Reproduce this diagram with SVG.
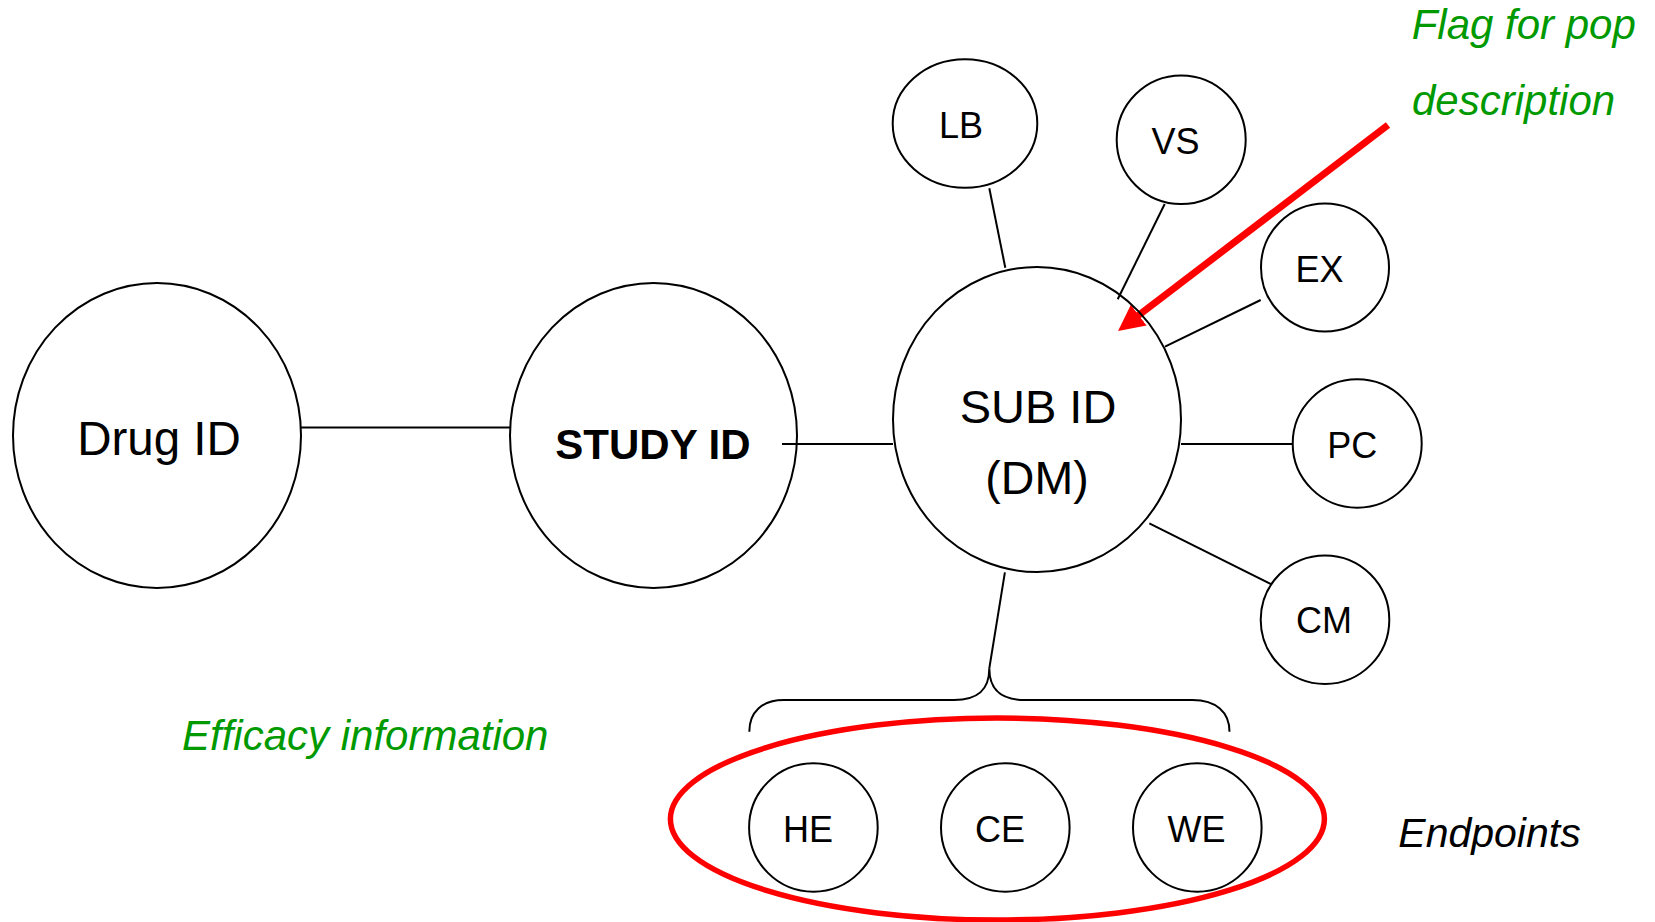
<svg xmlns="http://www.w3.org/2000/svg" width="1655" height="922" viewBox="0 0 1655 922">
<style>
.n{fill:#fff;stroke:#000;stroke-width:2}
.c{stroke:#000;stroke-width:2;fill:none}
.t{font-family:"Liberation Sans",Arial,sans-serif;fill:#000;text-anchor:middle}
.s{font-size:36px}
.g{font-family:"Liberation Sans",Arial,sans-serif;font-style:italic;fill:#009900;font-size:42px}
</style>
<defs>
<marker id="ah" markerUnits="userSpaceOnUse" markerWidth="26" markerHeight="26" viewBox="0 0 24 24" refX="2" refY="12" orient="auto">
<path d="M0,0 L24,12 L0,24 Z" fill="#ff0000"/>
</marker>
</defs>
<rect width="1655" height="922" fill="#fff"/>
<g id="connectors">
<line class="c" x1="300" y1="427.5" x2="510" y2="427.5"/>
<line class="c" x1="782" y1="444" x2="893" y2="444"/>
<line class="c" x1="989.3" y1="188.3" x2="1005.3" y2="267.7"/>
<line class="c" x1="1164.7" y1="204" x2="1117.7" y2="299.3"/>
<line class="c" x1="1260.7" y1="300" x2="1165" y2="346.7"/>
<line class="c" x1="1181" y1="444" x2="1292.7" y2="444"/>
<line class="c" x1="1149.3" y1="523.3" x2="1277.3" y2="587.3"/>
<line class="c" x1="1004.9" y1="572.3" x2="989.3" y2="668.3"/>
<path class="c" d="M749.3,731.7 C749.3,712 762,700 784,700 L954,700 C978,700 989.3,690 989.3,668.3 C989.3,690 1001,700 1025,700 L1192.4,700 C1216,700 1229.5,712 1229.5,731.7"/>
<line x1="1388" y1="125" x2="1137" y2="316.5" stroke="#ff0000" stroke-width="7" marker-end="url(#ah)"/>
</g>
<g id="drug"><ellipse class="n" cx="157" cy="435.5" rx="144" ry="152.5"/><text class="t" x="159" y="455.3" font-size="47.5">Drug ID</text></g>
<g id="study"><ellipse class="n" cx="653.5" cy="435.5" rx="143.5" ry="152.5"/><line class="c" x1="782" y1="444" x2="797" y2="444"/><text class="t" x="653" y="458.7" font-size="42" font-weight="bold">STUDY ID</text></g>
<g id="sub"><ellipse class="n" cx="1037" cy="419.5" rx="144" ry="152.5" style="fill:none"/><text class="t" x="1038" y="423.3" font-size="47">SUB ID</text><text class="t" x="1037" y="494" font-size="46.5">(DM)</text></g>
<g id="lb"><ellipse class="n" cx="965" cy="123.5" rx="72.3" ry="64.2"/><text class="t s" x="961" y="138">LB</text></g>
<g id="vs"><ellipse class="n" cx="1181.2" cy="139.7" rx="64.5" ry="64.3"/><text class="t s" x="1175.5" y="154">VS</text></g>
<g id="ex"><ellipse class="n" cx="1325" cy="267.5" rx="64" ry="64"/><text class="t s" x="1319.5" y="282">EX</text></g>
<g id="pc"><ellipse class="n" cx="1357.2" cy="443.5" rx="64.5" ry="64.2"/><text class="t s" x="1352.3" y="457.7">PC</text></g>
<g id="cm"><ellipse class="n" cx="1325" cy="619.7" rx="64.3" ry="64.3"/><text class="t s" x="1324" y="633.3">CM</text></g>
<g id="endpoints-group"><ellipse cx="997.4" cy="819" rx="327" ry="101" fill="none" stroke="#ff0000" stroke-width="5.5"/></g>
<g id="he"><ellipse class="n" cx="813.4" cy="827.5" rx="64.3" ry="64.2"/><text class="t s" x="808" y="841.7">HE</text></g>
<g id="ce"><ellipse class="n" cx="1005.3" cy="827.5" rx="64.3" ry="64.2"/><text class="t s" x="1000" y="841.7">CE</text></g>
<g id="we"><ellipse class="n" cx="1197.3" cy="827.5" rx="64.3" ry="64.2"/><text class="t s" x="1196.5" y="841.7">WE</text></g>
<g id="labels">
<text class="g" x="1411.7" y="39.3">Flag for pop</text>
<text class="g" x="1412" y="115">description</text>
<text class="g" x="182" y="750" font-size="43">Efficacy information</text>
<text x="1398.3" y="846.7" font-family="'Liberation Sans',Arial,sans-serif" font-style="italic" font-size="41" fill="#000">Endpoints</text>
</g>
</svg>
